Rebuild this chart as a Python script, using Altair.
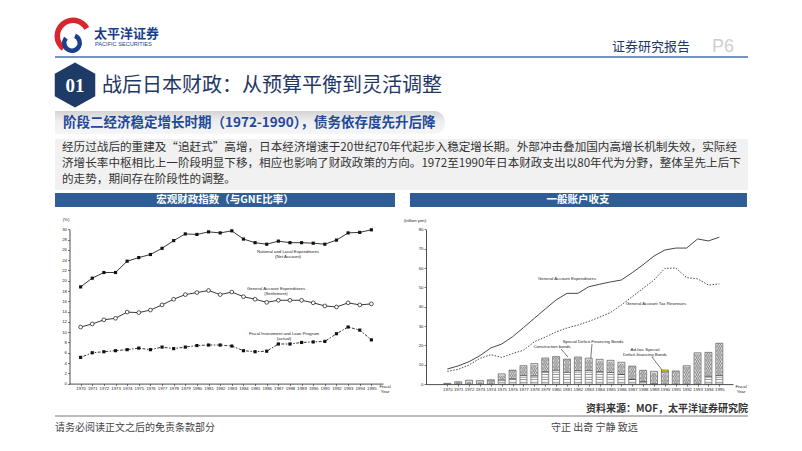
import altair as alt
import pandas as pd

# ---------------- data ----------------
years = list(range(1970, 1996))

# Left chart: fiscal indicators, ratio to GNE (%)
national_local = [18.8, 20.5, 21.6, 21.6, 23.8, 24.5, 25.1, 26.3, 27.8, 29.1, 29.0, 29.5, 29.3,
                  29.7, 28.1, 27.4, 27.1, 27.7, 27.4, 27.4, 27.3, 27.1, 27.9, 29.3, 29.4, 29.9]
general_exp_ratio = [11.0, 11.6, 12.4, 12.7, 13.9, 13.8, 14.3, 15.3, 16.4, 17.3, 17.7, 18.1, 17.3,
                     17.8, 16.9, 16.4, 15.8, 16.2, 16.2, 16.2, 15.7, 15.1, 14.9, 15.7, 15.3, 15.5]
filp_ratio = [5.1, 6.0, 6.2, 6.4, 6.6, 6.9, 6.6, 7.1, 6.8, 7.1, 7.4, 7.5, 7.5,
              7.3, 6.4, 6.2, 6.3, 7.7, 7.7, 8.0, 8.1, 8.2, 9.7, 11.0, 10.4, 8.5]

# Right chart: general account (trillion yen)
expenditures = [7.8, 9.4, 11.6, 14.7, 18.7, 20.7, 24.5, 29.2, 34.0, 38.8, 43.5, 46.9, 46.9,
                50.3, 51.6, 52.8, 53.8, 57.6, 61.7, 66.2, 69.3, 70.3, 70.3, 75.0, 74.0, 75.9]
tax_revenues = [6.6, 7.6, 9.9, 13.3, 15.2, 13.8, 15.8, 17.5, 21.9, 24.3, 27.0, 29.0, 30.5,
                32.4, 34.6, 37.0, 40.9, 45.2, 49.5, 53.8, 59.8, 60.0, 55.0, 54.4, 51.2, 51.8]
deficit_bonds = [0, 0, 0, 0, 0, 2.1, 2.8, 4.5, 4.3, 6.4, 7.2, 6.1, 7.0,
                 7.1, 6.4, 6.0, 5.0, 2.5, 1.4, 0.2, 0, 0, 0, 0, 4.1, 4.5]
construction_bonds = [0.4, 1.2, 2.0, 1.8, 2.2, 3.2, 4.4, 5.0, 6.3, 7.1, 7.0, 6.8, 7.0,
                      6.3, 6.4, 6.3, 6.3, 6.8, 5.7, 6.4, 6.3, 6.8, 9.5, 16.2, 12.3, 16.6]
adhoc_bonds = [0, 0, 0, 0, 0, 0, 0, 0, 0, 0, 0, 0, 0,
               0, 0, 0, 0, 0, 0, 0, 1.0, 0, 0, 0, 0, 0]

paragraph = [
    "经历过战后的重建及“追赶式”高增，日本经济增速于20世纪70年代起步入稳定增长期。外部冲击叠加国内高增长机制失效，实际经",
    "济增长率中枢相比上一阶段明显下移，相应也影响了财政政策的方向。1972至1990年日本财政支出以80年代为分野，整体呈先上后下",
    "的走势，期间存在阶段性的调整。",
]

CJK = "Noto Sans CJK SC"
LAT = "Liberation Sans"

# ---------------- pixel canvas for slide decoration ----------------
PX = alt.Scale(domain=[8, 794], range=[0, 786], nice=False, zero=False)
PY = alt.Scale(domain=[8, 443], range=[0, 435], nice=False, zero=False)


def txt(items, **kw):
    df = pd.DataFrame(items, columns=["x", "y", "t"])
    return alt.Chart(df).mark_text(**kw).encode(
        x=alt.X("x:Q", scale=PX, axis=None),
        y=alt.Y("y:Q", scale=PY, axis=None),
        text="t:N",
    )


def box(x1, y1, x2, y2, **kw):
    df = pd.DataFrame({"x": [x1], "x2": [x2], "y": [y1], "y2": [y2]})
    return alt.Chart(df).mark_rect(**kw).encode(
        x=alt.X("x:Q", scale=PX, axis=None), x2="x2:Q",
        y=alt.Y("y:Q", scale=PY, axis=None), y2="y2:Q",
    )


def seg(x1, y1, x2, y2, **kw):
    df = pd.DataFrame({"x": [x1], "x2": [x2], "y": [y1], "y2": [y2]})
    return alt.Chart(df).mark_rule(**kw).encode(
        x=alt.X("x:Q", scale=PX, axis=None), x2="x2:Q",
        y=alt.Y("y:Q", scale=PY, axis=None), y2="y2:Q",
    )


def arc(x, y, **kw):
    df = pd.DataFrame({"x": [x], "y": [y]})
    return alt.Chart(df).mark_arc(**kw).encode(
        x=alt.X("x:Q", scale=PX, axis=None),
        y=alt.Y("y:Q", scale=PY, axis=None),
    )


NAVY = "#1F3864"
BAR_BLUE = "#2F5D95"

hexagon = "M0,-1 L0.9,-0.5 L0.9,0.5 L0,1 L-0.9,0.5 L-0.9,-0.5 Z"
badge = alt.Chart(pd.DataFrame({"x": [75], "y": [85]})).mark_point(
    shape=hexagon, size=2025, filled=True, color="#1E3A66", opacity=1
).encode(x=alt.X("x:Q", scale=PX, axis=None), y=alt.Y("y:Q", scale=PY, axis=None))

sub_grad = alt.LinearGradient(
    gradient="linear",
    stops=[alt.GradientStop(color="#d4d4d4", offset=0),
           alt.GradientStop(color="#eeeeee", offset=0.45),
           alt.GradientStop(color="#f6f6f6", offset=1)],
    x1=0, x2=0, y1=0, y2=1,
)

decor = alt.layer(
    # logo
    arc(73, 36, theta=3.8, theta2=7.35, radius=18.5, radius2=13, color="#D7262E"),
    arc(72, 43, theta=0.4, theta2=5.4, radius=10, radius2=5.5, color="#1C3F8A"),
    txt([(94, 34, "太平洋证券")], align="left", font=CJK, fontSize=13, fontWeight="bold", color="#1C3F8A"),
    txt([(95, 44, "PACIFIC  SECURITIES")], align="left", font=LAT, fontSize=5.6, color="#1C3F8A"),
    # header right
    txt([(612, 47, "证券研究报告")], align="left", font=CJK, fontSize=13, color=NAVY),
    txt([(712, 47, "P6")], align="left", font=LAT, fontSize=18, color="#cfcfcf"),
    seg(55, 57, 748, 57, color="#4A6FB0", strokeWidth=1.6),
    # title
    badge,
    txt([(75, 86, "01")], font="Liberation Serif", fontSize=19, fontWeight="bold", color="white"),
    txt([(102, 86, "战后日本财政：从预算平衡到灵活调整")], align="left", font=CJK, fontSize=20, color=NAVY),
    # subtitle bar
    box(55, 111, 445, 134, color=sub_grad, cornerRadiusTopRight=11, cornerRadiusBottomRight=11),
    txt([(63, 123, "阶段二经济稳定增长时期（1972-1990），债务依存度先升后降")], align="left", font=CJK,
        fontSize=13.5, fontWeight="bold", color="#23499A"),
    # paragraph box
    box(55, 139, 748, 190, color="#f1f1f1"),
    txt([(62, 148, paragraph[0]), (62, 164, paragraph[1]), (62, 180, paragraph[2])], align="left",
        font=CJK, fontSize=11.6, color="#333333"),
    # chart title bars
    box(55, 193, 395, 207, color=BAR_BLUE),
    txt([(225, 200, "宏观财政指数（与GNE比率）")], font=CJK, fontSize=10.5, fontWeight="bold", color="white"),
    box(410, 193, 747, 207, color=BAR_BLUE),
    txt([(578, 200, "一般账户收支")], font=CJK, fontSize=10.5, fontWeight="bold", color="white"),
    # left chart annotations
    txt([(66, 220, "(%)"), (385, 387, "Fiscal"), (385, 392, "Year"),
         (288, 252, "National and Local Expenditures"), (288, 257, "(Net Account)"),
         (276, 289, "General Account Expenditures"), (276, 294, "(Settlement)"),
         (284, 334, "Fiscal Investment and Loan Program"), (284, 339, "(actual)")],
        font=LAT, fontSize=4.3, color="#222222"),
    # right chart annotations
    txt([(415, 221, "(trillion yen)"), (741, 387, "Fiscal"), (741, 392, "Year"),
         (567, 279, "General Account Expenditures"),
         (656, 304, "General Account Tax Revenues"),
         (552, 347, "Construction bonds"),
         (593, 342, "Special Deficit-Financing Bonds"),
         (645, 350, "Ad-hoc Special"), (645, 355, "Deficit-financing Bonds")],
        font=LAT, fontSize=4.3, color="#222222"),
    seg(561, 349, 568, 357, color="#222222", strokeWidth=0.6),
    seg(592, 344, 589, 378, color="#222222", strokeWidth=0.6),
    seg(652, 357, 662, 370, color="#222222", strokeWidth=0.6),
    # footer
    txt([(748, 409, "资料来源：MOF，太平洋证券研究院")], align="right", font=CJK, fontSize=10,
        fontWeight="bold", color="#333333"),
    seg(55, 416, 748, 416, color="#a6a6a6", strokeWidth=1.5),
    txt([(55, 428, "请务必阅读正文之后的免责条款部分")], align="left", font=CJK, fontSize=10, color="#444444"),
    txt([(551, 428, "守正 出奇 宁静 致远")], align="left", font=CJK, fontSize=10, color="#444444"),
)

# ---------------- left chart ----------------
ax_common = dict(domainColor="#222222", domainWidth=0.8, tickColor="#222222", tickWidth=0.6,
                 tickSize=2, labelFontSize=4.3, labelColor="#222222", labelFont=LAT, grid=False,
                 title=None, labelPadding=1, labelOverlap=False, labelFlush=False)

LX = alt.Scale(domain=[1969, 1996], range=[61, 375], nice=False, zero=False)
LY = alt.Scale(domain=[0, 30], range=[375.6, 221.3], nice=False, zero=False)
LXA = alt.Axis(orient="bottom", offset=-59.4, values=years, format="d", labelAngle=0, **ax_common)
LYA = alt.Axis(orient="left", offset=-61.5, values=list(range(0, 31, 2)), **ax_common)

left_df = pd.DataFrame({
    "year": years * 3,
    "value": national_local + general_exp_ratio + filp_ratio,
    "series": ["national"] * 26 + ["general"] * 26 + ["filp"] * 26,
})
lx = alt.X("year:Q", scale=LX, axis=LXA)
ly = alt.Y("value:Q", scale=LY, axis=LYA)
base_l = alt.Chart(left_df)
left = alt.layer(
    base_l.transform_filter("datum.series != 'filp'").mark_line(color="#222222", strokeWidth=0.9)
    .encode(x=lx, y=ly, detail="series:N"),
    base_l.transform_filter("datum.series == 'filp'").mark_line(color="#222222", strokeWidth=0.9,
                                                                 strokeDash=[1.5, 1.5, 3, 1.5])
    .encode(x=lx, y=ly),
    base_l.transform_filter("datum.series != 'general'").mark_point(shape="square", filled=True,
                                                                    size=10, color="#111111", opacity=1)
    .encode(x=lx, y=ly),
    base_l.transform_filter("datum.series == 'general'").mark_point(shape="circle", filled=True,
                                                                    size=14, fill="white", stroke="#111111",
                                                                    strokeWidth=0.7, opacity=1)
    .encode(x=lx, y=ly),
)

# ---------------- right chart ----------------
RX = alt.Scale(domain=[1968.5, 1995.8], range=[418, 725], nice=False, zero=False)
RY = alt.Scale(domain=[0, 80], range=[376.1, 221.3], nice=False, zero=False)
RXA = alt.Axis(orient="bottom", offset=-58.9, values=years, format="d", labelAngle=0, **ax_common)
RYA = alt.Axis(orient="left", offset=-418, values=list(range(0, 81, 10)), **ax_common)

rows = []
for i, yr in enumerate(years):
    d = deficit_bonds[i]
    c = construction_bonds[i]
    a = adhoc_bonds[i]
    rows.append({"year": yr, "kind": "deficit", "y0": 0, "y1": d})
    rows.append({"year": yr, "kind": "construction", "y0": d, "y1": d + c})
    rows.append({"year": yr, "kind": "adhoc", "y0": d + c, "y1": d + c + a})
bars_df = pd.DataFrame(rows)
bars_df = bars_df[bars_df["y1"] > bars_df["y0"]]

# hatching derived from the bond series: stripes for deficit bonds, lattice for construction bonds
stripe_rows = []
hatch_rows = []
for i, yr in enumerate(years):
    lvl = 1.0
    while lvl < deficit_bonds[i]:
        stripe_rows.append({"year": yr, "level": lvl})
        lvl += 1.3
    base = deficit_bonds[i]
    top = base + construction_bonds[i]
    k = 0
    lvl = base + 0.6
    while lvl < top - 0.4:
        shifts = [-0.1, 0.1] if k % 2 == 0 else [-0.2, 0.0, 0.2]
        for s in shifts:
            hatch_rows.append({"year": yr + s, "level": lvl})
        lvl += 1.1
        k += 1
stripes_df = pd.DataFrame(stripe_rows)
hatch_df = pd.DataFrame(hatch_rows)

lines_df = pd.DataFrame({
    "year": years * 2,
    "value": expenditures + tax_revenues,
    "series": ["exp"] * 26 + ["tax"] * 26,
})

rx = alt.X("year:Q", scale=RX, axis=RXA)
bar_colors = alt.Color("kind:N", scale=alt.Scale(domain=["deficit", "construction", "adhoc"],
                                                 range=["#ffffff", "#e4e4e4", "#f2e200"]), legend=None)
xshape = "M-1,-1 L1,1 M1,-1 L-1,1"
right = alt.layer(
    alt.Chart(bars_df).mark_bar(size=7, stroke="#222222", strokeWidth=0.5, opacity=1).encode(
        x=rx, y=alt.Y("y0:Q", scale=RY, axis=RYA), y2="y1:Q", color=bar_colors),
    alt.Chart(stripes_df).mark_tick(orient="horizontal", size=6.5, thickness=0.5, color="#333333",
                                    opacity=1).encode(
        x=rx, y=alt.Y("level:Q", scale=RY, axis=RYA)),
    alt.Chart(hatch_df).mark_point(shape=xshape, size=5, stroke="#555555", strokeWidth=0.45,
                                   opacity=1).encode(
        x=rx, y=alt.Y("level:Q", scale=RY, axis=RYA)),
    alt.Chart(lines_df).transform_filter("datum.series == 'exp'").mark_line(
        color="#333333", strokeWidth=0.9).encode(x=rx, y=alt.Y("value:Q", scale=RY, axis=RYA)),
    alt.Chart(lines_df).transform_filter("datum.series == 'tax'").mark_line(
        color="#333333", strokeWidth=0.9, strokeDash=[1.5, 1.5]).encode(
        x=rx, y=alt.Y("value:Q", scale=RY, axis=RYA)),
)

chart = alt.layer(decor, left, right).resolve_scale(
    x="independent", y="independent"
).properties(
    width=786, height=435, autosize=alt.AutoSizeParams(type="none"), padding=0
).configure_view(stroke=None)

chart.save("out.html", embed_options={"renderer": "svg", "actions": False})
